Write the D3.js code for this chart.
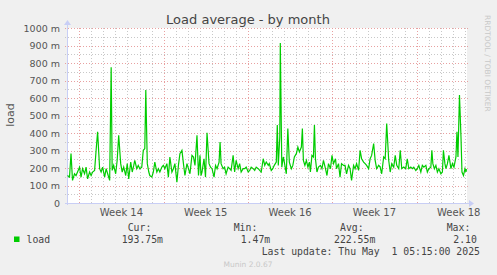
<!DOCTYPE html>
<html>
<head>
<meta charset="utf-8">
<script src="https://cdn.jsdelivr.net/npm/d3@7"></script>
<style>
  body { margin: 0; background: #f0f0f0; }
  svg { display: block; }
</style>
</head>
<body>
<div id="chart"></div>
<script>
// hours after start of graph, load in milli-units
const hours = [1,5,8,11,15,18,21,25,28,31,35,38,41,45,48,51,55,58,61,65,68,71,75,78,81,85,88,90,93,97,100,103,107,110,113,117,120,123,127,130,133,
  135,139,142,145,149,152,155,157,160,163,165,169,172,175,179,182,185,189,192,195,199,202,205,209,212,215,219,222,225,229,232,235,239,242,245,249,252,255,259,262,265,
  267,269,273,276,279,283,286,289,293,296,299,303,305,307,311,314,317,321,324,327,331,334,337,341,344,347,351,354,357,361,364,367,371,374,377,381,384,387,391,394,397,401,
  403,407,410,413,417,419,421,424,425,428,431,433,437,440,443,447,450,453,457,460,463,467,469,471,474,477,480,483,485,488,491,493,495,498,501,505,508,511,515,518,521,525,528,531,535,
  537,541,544,547,551,554,557,561,564,567,571,574,577,581,584,587,591,594,597,601,604,607,611,614,617,621,624,627,631,634,637,641,644,647,651,654,657,661,664,667,
  671,675,678,681,685,688,691,695,698,701,705,708,711,715,718,721,725,727,729,732,735,738,741,745,748,750,753,755,758,761,765,768,771,775,777,779,782,785,787,790,793,795,796];
const load = [157,148,282,129,167,157,177,205,148,196,167,205,138,177,157,177,186,301,407,196,177,205,148,196,167,129,776,186,215,167,244,387,225,177,205,157,225,138,234,177,215,
  244,196,215,196,205,301,311,646,225,177,157,148,177,234,177,196,177,205,215,196,225,148,263,177,196,225,119,215,282,301,225,157,225,196,167,272,263,215,387,157,272,
  157,177,253,148,401,225,205,196,148,215,196,234,349,225,196,205,167,205,196,186,272,177,244,196,225,177,196,196,205,177,186,205,196,186,205,196,186,177,253,215,234,215,
  225,186,196,215,234,445,215,378,914,205,263,234,167,426,234,196,215,263,282,320,292,320,426,244,215,244,205,234,177,272,263,445,253,177,205,215,196,244,196,157,225,196,272,225,253,
  196,225,148,225,215,215,167,215,196,129,215,196,225,186,301,253,234,225,215,196,253,272,340,244,196,215,205,167,263,253,454,244,177,225,205,272,215,196,301,196,
  205,196,253,196,205,196,205,186,196,215,177,215,205,215,177,196,205,301,225,196,215,177,196,167,177,301,225,196,225,272,196,225,205,263,407,263,617,378,177,157,196,177,194];

const yTicks = [0,100,200,300,400,500,600,700,800,900,1000];
const stats = { cur: "193.75m", min: "1.47m", avg: "222.55m", max: "2.10" };

const W = 497, H = 275;
const margin = {top: 28, right: 30, bottom: 72, left: 67};
const start = new Date(Date.UTC(2025, 2, 29, 23, 30));
const end = new Date(start.getTime() + 797 * 3600e3);

const svg = d3.select("#chart").append("svg")
  .attr("width", W).attr("height", H)
  .style("font-family", "DejaVu Sans");

svg.append("rect").attr("width", W).attr("height", H).attr("fill", "#f0f0f0");

const x = d3.scaleUtc().domain([start, end]).range([margin.left, W - margin.right]);
const y = d3.scaleLinear().domain([0, 1000]).range([H - margin.bottom, margin.top]);

// plot background
svg.append("rect")
  .attr("x", x.range()[0]).attr("y", y(1000))
  .attr("width", x.range()[1] - x.range()[0]).attr("height", y(0) - y(1000))
  .attr("fill", "#ffffff");

// minor grid
const days = d3.utcDay.range(start, end);
const mondays = d3.utcMonday.range(start, end);
svg.append("g").selectAll("line").data(days.filter(d => d.getUTCDay() !== 1)).join("line")
  .attr("x1", d => Math.round(x(d)) + 0.5).attr("x2", d => Math.round(x(d)) + 0.5)
  .attr("y1", y(1000)).attr("y2", y(0))
  .attr("stroke", "#c8c8c8").attr("stroke-dasharray", "1,2");
svg.append("g").selectAll("line").data(d3.range(50, 1000, 100)).join("line")
  .attr("x1", x.range()[0] - 2).attr("x2", x.range()[1])
  .attr("y1", d => Math.round(y(d)) + 0.5).attr("y2", d => Math.round(y(d)) + 0.5)
  .attr("stroke", "#c8c8c8").attr("stroke-dasharray", "1,2");

// major grid
svg.append("g").selectAll("line").data(mondays).join("line")
  .attr("x1", d => Math.round(x(d)) + 0.5).attr("x2", d => Math.round(x(d)) + 0.5)
  .attr("y1", y(1000)).attr("y2", y(0) + 2)
  .attr("stroke", "#e8a0a0").attr("stroke-dasharray", "1,2");
svg.append("g").selectAll("line").data(yTicks.slice(1)).join("line")
  .attr("x1", x.range()[0] - 2).attr("x2", x.range()[1] + 1)
  .attr("y1", d => Math.round(y(d)) + 0.5).attr("y2", d => Math.round(y(d)) + 0.5)
  .attr("stroke", "#e8a0a0").attr("stroke-dasharray", "1,2");

// y labels
svg.append("g").selectAll("text").data(yTicks).join("text")
  .attr("x", 60).attr("y", d => y(d) + 3.5)
  .attr("text-anchor", "end").attr("font-size", 9.5).attr("fill", "#555")
  .text(d => d === 0 ? "0" : d + " m");

// x labels
svg.append("g").selectAll("text").data(mondays).join("text")
  .attr("x", d => x(d3.utcHour.offset(d, 84))).attr("y", 215.5)
  .attr("text-anchor", "middle").attr("font-size", 10).attr("fill", "#555")
  .text(d => "Week " + +d3.utcFormat("%V")(d));

// axes
const axisCol = "#c8cef5";
svg.append("line").attr("x1", x.range()[0] - 2).attr("x2", x.range()[1] + 3)
  .attr("y1", y(0) + 0.5).attr("y2", y(0) + 0.5).attr("stroke", axisCol);
svg.append("line").attr("x1", x.range()[0] + 0.5).attr("x2", x.range()[0] + 0.5)
  .attr("y1", y(0) + 2).attr("y2", y(1000) - 4).attr("stroke", axisCol);
svg.append("path")
  .attr("d", `M${x.range()[1] + 2},${y(0) - 3} L${x.range()[1] + 7},${y(0) + 0.5} L${x.range()[1] + 2},${y(0) + 4} Z`)
  .attr("fill", axisCol);
svg.append("path")
  .attr("d", `M${x.range()[0] - 3},${y(1000) - 3} L${x.range()[0] + 0.5},${y(1000) - 8} L${x.range()[0] + 4},${y(1000) - 3} Z`)
  .attr("fill", axisCol);

// data line
const line = d3.line()
  .x((d, i) => x(new Date(start.getTime() + hours[i] * 3600e3)))
  .y(d => y(d));
svg.append("path").datum(load)
  .attr("d", line)
  .attr("fill", "none").attr("stroke", "#00cc00").attr("stroke-width", 1.2);

// title
svg.append("text").attr("x", 248).attr("y", 24)
  .attr("text-anchor", "middle").attr("font-size", 13).attr("fill", "#444")
  .text("Load average - by month");

// y axis title
svg.append("text").attr("transform", "translate(14,115) rotate(-90)")
  .attr("text-anchor", "middle").attr("font-size", 11).attr("fill", "#555")
  .text("load");

// right credit
svg.append("text").attr("transform", "translate(485,15) rotate(90)")
  .attr("font-size", 7.5).attr("fill", "#c8c8c8")
  .text("RRDTOOL / TOBI OETIKER");

// legend
const mono = svg.append("g").style("font-family", "DejaVu Sans Mono")
  .attr("font-size", 9.8).attr("fill", "#444");
svg.append("rect").attr("x", 14).attr("y", 236.5).attr("width", 5.5).attr("height", 5.5).attr("fill", "#00cc00");
mono.append("text").attr("x", 26.5).attr("y", 242.5).text("load");
const cols = [
  {h: "Cur:", hx: 127.7, v: stats.cur, vx: 121.7},
  {h: "Min:", hx: 233.7, v: stats.min, vx: 240.7},
  {h: "Avg:", hx: 340, v: stats.avg, vx: 334},
  {h: "Max:", hx: 446.7, v: stats.max, vx: 453.3}
];
mono.selectAll("text.h").data(cols).join("text").attr("class", "h")
  .attr("x", d => d.hx).attr("y", 230.5).text(d => d.h);
mono.selectAll("text.v").data(cols).join("text").attr("class", "v")
  .attr("x", d => d.vx).attr("y", 242.5).text(d => d.v);
mono.append("text").attr("x", 261.7).attr("y", 255).attr("xml:space", "preserve")
  .style("white-space", "pre")
  .text("Last update: Thu May  1 05:15:00 2025");

svg.append("text").attr("x", 248).attr("y", 267)
  .attr("text-anchor", "middle").attr("font-size", 7.5).attr("fill", "#c8c8c8")
  .text("Munin 2.0.67");
</script>
</body>
</html>
